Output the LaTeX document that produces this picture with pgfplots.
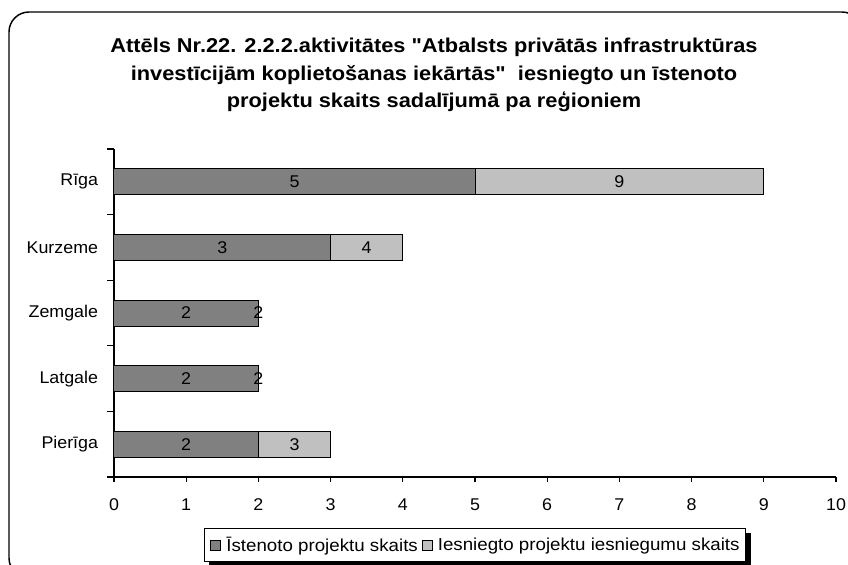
\documentclass[border=0pt]{standalone}
\usepackage{pgfplots}
\pgfplotsset{compat=1.18}
\usepackage{pgfplotstable}
\usepackage{fontspec}
\setmainfont{Liberation Sans}[FakeStretch=1.05]
\newfontfamily\titlefont{Liberation Sans}[FakeStretch=1.09]
\newfontfamily\legfont{Liberation Sans}[FakeStretch=1.08]
\pgfdeclarelayer{pagebg}
\pgfdeclarelayer{background}
\pgfsetlayers{pagebg,background,main}
\definecolor{darkbar}{HTML}{808080}
\definecolor{lightbar}{HTML}{C0C0C0}

% y: 0=Pierīga ... 4=Rīga
\pgfplotstableread{
y impl
4 5
3 3
2 2
1 2
0 2
}\implemented
\pgfplotstableread{
y total
4 9
3 4
2 2
1 2
0 3
}\submitted
\pgfplotstableread{
x y label
2.5 4 5
7 4 9
1.5 3 3
3.5 3 4
1 2 2
2 2 2
1 1 2
2 1 2
1 0 2
2.5 0 3
}\barlabels

\begin{document}
\begin{tikzpicture}[x=0.75bp,y=0.75bp]
\useasboundingbox (0,0) rectangle (848,-565);
\begin{pgfonlayer}{pagebg}
\fill[white] (0,0) rectangle (848,-565);
\end{pgfonlayer}
\draw[line width=1.1bp, rounded corners=15bp] (9,-12) rectangle (862,-578);
\begin{scope}[every node/.style={anchor=base, font=\titlefont\fontsize{15bp}{18bp}\selectfont\bfseries}]
\node at (434,-52) {Attēls Nr.22. 2.2.2.aktivitātes "Atbalsts privātās infrastruktūras};
\node at (434,-80) {investīcijām koplietošanas iekārtās"~ iesniegto un īstenoto};
\node at (434,-107.5) {projektu skaits sadalījumā pa reģioniem};
\end{scope}
\coordinate (axorigin) at (114,-477);
\begin{axis}[
  at={(axorigin)}, anchor=south west,
  scale only axis, width=541.5bp, height=246bp,
  xmin=0, xmax=10, ymin=-0.5, ymax=4.5,
  axis lines*=left,
  axis line style={line width=1bp},
  xtick={0,...,10},
  ytick={0,...,4},
  yticklabels={Pierīga,Latgale,Zemgale,Kurzeme,Rīga},
  minor ytick={-0.5,0.5,1.5,2.5,3.5,4.5},
  major y tick style={draw=none},
  minor y tick style={draw=black, line width=1bp},
  major x tick style={draw=black, line width=1bp},
  tick align=outside,
  major tick length=3.75bp,
  minor tick length=5.25bp,
  /pgf/number format/assume math mode=true,
  ticklabel style={font=\fontsize{12.75bp}{15bp}\selectfont},
  xticklabel style={inner sep=0pt, anchor=base, yshift=-21bp},
  yticklabel style={inner sep=0pt, anchor=east, xshift=-8bp},
  clip=false,
  legend image code/.code={\draw[#1] (0bp,-3.75bp) rectangle (7.5bp,3.75bp);},
  legend columns=2,
  legend style={name=leg, at={(0.5,-0.2073)}, anchor=center, draw=black, line width=0.75bp,
    font=\legfont\fontsize{13bp}{15bp}\selectfont, inner xsep=4.5bp, inner ysep=6bp,
    nodes={inner sep=0pt},
    /tikz/every odd column/.append style={column sep=3.75bp},
    /tikz/every even column/.append style={column sep=3bp}},
]
\addlegendimage{fill=darkbar, draw=black, line width=0.75bp}
\addlegendentry{Īstenoto projektu skaits}
\addlegendimage{fill=lightbar, draw=black, line width=0.75bp}
\addlegendentry{Iesniegto projektu iesniegumu skaits}
\addplot[xbar, bar shift=0pt, bar width=19.5bp, fill=lightbar, draw=black, line width=0.75bp, forget plot]
  table[x=total, y=y] {\submitted};
\addplot[xbar, bar shift=0pt, bar width=19.5bp, fill=darkbar, draw=black, line width=0.75bp, forget plot]
  table[x=impl, y=y] {\implemented};
\addplot[only marks, mark=none, forget plot, point meta=explicit symbolic,
  nodes near coords,
  every node near coord/.style={anchor=center, inner sep=0pt, font=\fontsize{12.75bp}{15bp}\selectfont}]
  table[x=x, y=y, meta=label] {\barlabels};
\end{axis}
\begin{pgfonlayer}{background}
\fill[black] ([xshift=3.5bp,yshift=-3.5bp]leg.south west) rectangle ([xshift=3.5bp,yshift=-3.5bp]leg.north east);
\end{pgfonlayer}
\end{tikzpicture}
\end{document}
